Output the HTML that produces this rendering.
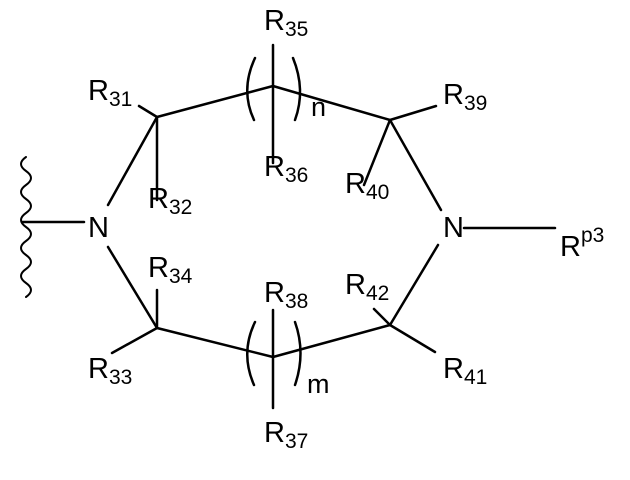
<!DOCTYPE html>
<html><head><meta charset="utf-8"><style>
html,body{margin:0;padding:0;background:#fff;}
svg text{font-family:"Liberation Sans",sans-serif;fill:#000;}
</style></head><body>
<svg width="630" height="475" viewBox="0 0 630 475" xmlns="http://www.w3.org/2000/svg">
<g stroke="#000" stroke-width="2.5" fill="none" stroke-linecap="round">
<path d="M26,157 q-10,7 0,14 q10,7 0,14 q-10,7 0,14 q10,7 0,14 q-10,7 0,14 q10,7 0,14 q-10,7 0,14 q10,7 0,14 q-10,7 0,14 q10,7 0,14" stroke-width="2"/>
<line x1="22" y1="222" x2="84" y2="222"/>
<!-- top -->
<line x1="108" y1="205" x2="157" y2="117"/>
<line x1="139" y1="106" x2="157" y2="117"/>
<line x1="157" y1="117" x2="157" y2="200"/>
<line x1="157" y1="117" x2="273" y2="86"/>
<line x1="273" y1="86" x2="390" y2="120"/>
<line x1="273" y1="45" x2="273" y2="163"/>
<path d="M255,58 Q240,90 254,120"/>
<path d="M293,58 Q306,90 295,120"/>
<line x1="390" y1="120" x2="436" y2="106"/>
<line x1="390" y1="120" x2="364" y2="185"/>
<line x1="390" y1="120" x2="441" y2="210"/>
<line x1="464" y1="228" x2="555" y2="228"/>
<!-- bottom -->
<line x1="108" y1="247" x2="157" y2="328"/>
<line x1="157" y1="290" x2="157" y2="328"/>
<line x1="157" y1="328" x2="112" y2="353"/>
<line x1="157" y1="328" x2="273" y2="357"/>
<line x1="273" y1="357" x2="390" y2="325"/>
<line x1="273" y1="310" x2="273" y2="408"/>
<path d="M255,322 Q240,353 254,385"/>
<path d="M295,322 Q306,353 295,385"/>
<line x1="390" y1="325" x2="438" y2="245"/>
<line x1="390" y1="325" x2="374" y2="309"/>
<line x1="390" y1="325" x2="435" y2="352"/>
</g>
<g font-size="29">
<text x="88" y="237">N</text>
<text x="443" y="237">N</text>
<text x="88" y="100">R<tspan font-size="21" dy="6">31</tspan></text>
<text x="148" y="208">R<tspan font-size="21" dy="6">32</tspan></text>
<text x="264" y="30">R<tspan font-size="21" dy="6">35</tspan></text>
<text x="264" y="176">R<tspan font-size="21" dy="6">36</tspan></text>
<text x="311" y="116" font-size="27">n</text>
<text x="443" y="104">R<tspan font-size="21" dy="6">39</tspan></text>
<text x="345" y="193">R<tspan font-size="21" dy="6">40</tspan></text>
<text x="560" y="256">R<tspan font-size="21" dy="-14">p3</tspan></text>
<text x="148" y="277">R<tspan font-size="21" dy="6">34</tspan></text>
<text x="264" y="302">R<tspan font-size="21" dy="6">38</tspan></text>
<text x="345" y="294">R<tspan font-size="21" dy="6">42</tspan></text>
<text x="88" y="378">R<tspan font-size="21" dy="6">33</tspan></text>
<text x="307" y="393" font-size="27">m</text>
<text x="443" y="378">R<tspan font-size="21" dy="6">41</tspan></text>
<text x="264" y="442">R<tspan font-size="21" dy="6">37</tspan></text>
</g>
</svg>
</body></html>
